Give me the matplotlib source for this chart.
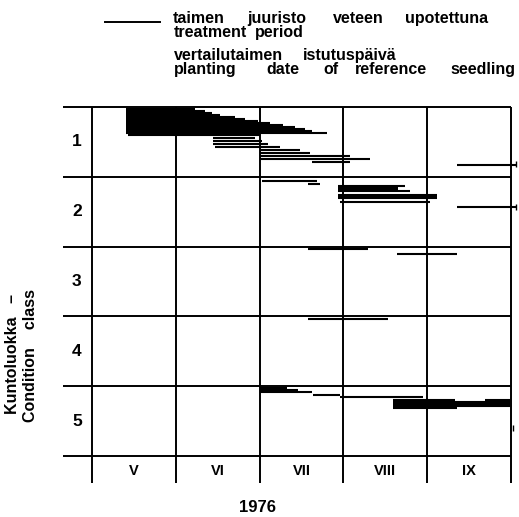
import matplotlib
matplotlib.use("Agg")
import matplotlib.pyplot as plt

plt.rcParams['font.family'] = ['Liberation Sans', 'DejaVu Sans']

# x in months since 1 May 1976 (0 = start of V, 5 = end of IX)
# row = position of the line inside its condition class band (0 = top, 1 = bottom)
months = ["V", "VI", "VII", "VIII", "IX"]
classes = ["1", "2", "3", "4", "5"]

c1_start = [0.41, 0.41, 0.41, 0.41, 0.41, 0.41, 0.41, 0.41, 0.41, 0.41, 0.41, 0.41, 0.41, 0.43,
            1.44, 1.44, 1.44, 1.47, 2.00, 2.00, 2.00, 2.00, 2.63, 4.36]
c1_end = [1.23, 1.35, 1.43, 1.53, 1.71, 1.83, 1.98, 2.12, 2.28, 2.42, 2.54, 2.63, 2.80, 2.00,
          1.95, 2.03, 2.10, 2.24, 2.48, 2.60, 3.08, 3.32, 3.08, 5.06]
c1_row = [0.03, 0.06, 0.09, 0.11, 0.14, 0.17, 0.20, 0.23, 0.26, 0.29, 0.31, 0.34, 0.37, 0.40,
          0.44, 0.49, 0.53, 0.57, 0.61, 0.66, 0.70, 0.74, 0.79, 0.83]

c2_start = [2.03, 2.58, 2.94, 2.94, 2.94, 2.94, 2.94, 2.94, 2.94, 2.96, 4.36]
c2_end = [2.68, 2.72, 3.74, 3.65, 3.65, 3.79, 4.12, 4.12, 4.12, 4.03, 5.06]
c2_row = [0.06, 0.10, 0.13, 0.16, 0.19, 0.21, 0.26, 0.29, 0.31, 0.36, 0.43]

c3_start = [2.58, 3.64]
c3_end = [3.29, 4.36]
c3_row = [0.04, 0.11]

c4_start = [2.58]
c4_end = [3.53]
c4_row = [0.04]

c5_start = [2.00, 2.00, 2.00, 2.64, 2.96, 3.59, 4.69, 3.59, 3.59, 3.59, 3.59]
c5_end = [2.33, 2.46, 2.63, 2.96, 3.95, 4.33, 4.99, 4.99, 4.99, 4.99, 4.36]
c5_row = [0.03, 0.06, 0.09, 0.13, 0.16, 0.20, 0.20, 0.23, 0.26, 0.29, 0.31]

# planting dates of reference seedlings (small marks)
ref_x = [5.06, 5.06, 5.02]
ref_y = [0.81, 1.43, 4.60]

starts = [c1_start, c2_start, c3_start, c4_start, c5_start]
ends = [c1_end, c2_end, c3_end, c4_end, c5_end]
rows = [c1_row, c2_row, c3_row, c4_row, c5_row]

fig = plt.figure(figsize=(5.19, 5.17), dpi=100)
ax = fig.add_axes([92 / 519, 61 / 517, 419 / 519, 349 / 517])
ax.set_xlim(0, 5)
ax.set_ylim(5, 0)
ax.axis("off")

# grid of months and condition classes
ax.hlines(range(6), -0.35, 5, colors="black", lw=1.4, clip_on=False)
ax.vlines(range(6), 0, 5.39, colors="black", lw=1.4, clip_on=False)

# treatment periods
for k in range(5):
    y = [k + r for r in rows[k]]
    ax.hlines(y, starts[k], ends[k], colors="black", lw=1.5, clip_on=False)

ax.plot(ref_x, ref_y, linestyle="none", marker="|", color="black", ms=4, mew=1, clip_on=False)

# labels
for i, m in enumerate(months):
    ax.text(i + 0.5, 5.22, m, ha="center", va="center", fontsize=10.5, fontweight="bold")
for k, c in enumerate(classes):
    ax.text(-0.18, k + 0.5, c, ha="center", va="center", fontsize=12.5, fontweight="bold")

fig.text(258 / 519, 1 - 508 / 517, "1976", ha="center", va="center", fontsize=12, fontweight="bold")
fig.text(13 / 519, 1 - 354 / 517, "Kuntoluokka   \u2013", rotation=90, ha="center", va="center",
         fontsize=11.5, fontweight="bold")
fig.text(31 / 519, 1 - 356 / 517, "Condition    class", rotation=90, ha="center", va="center",
         fontsize=11.5, fontweight="bold")

# legend
fig.add_artist(plt.Line2D([105 / 519, 160 / 519], [1 - 22 / 517, 1 - 22 / 517], color="black", lw=1.4))
legend_words = [
    (["taimen", "juuristo", "veteen", "upotettuna"], [173, 247, 333, 405], 23),
    (["treatment", "period"], [174, 255], 37),
    (["vertailutaimen", "istutuspäivä"], [174, 303], 60),
    (["planting", "date", "of", "reference", "seedling"], [174, 266, 323, 355, 450], 74),
]
for words, xs, ypx in legend_words:
    for w, xpx in zip(words, xs):
        fig.text(xpx / 519, 1 - ypx / 517, w, ha="left", va="baseline", fontsize=11.5, fontweight="bold")

fig.savefig("out.png", dpi=100)
